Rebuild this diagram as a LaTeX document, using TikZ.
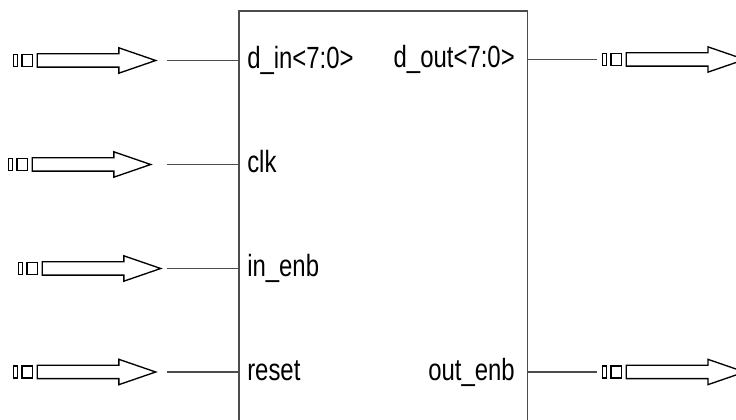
\documentclass[tikz,border=0pt]{standalone}
\usepackage{fontspec}
\newfontfamily\pinfont[FakeStretch=0.78]{Liberation Sans}
\usetikzlibrary{shapes.arrows,positioning}

\begin{document}
\begin{tikzpicture}[x=0.75pt,y=-0.75pt,
    busarrow/.style={single arrow,draw,line width=1pt,inner sep=0pt,
      minimum height=88.9pt,single arrow head extend=4.5pt,
      single arrow tip angle=38,single arrow head indent=0pt,anchor=tail},
    tick/.style={draw,line width=1pt,inner sep=0pt,minimum height=9pt},
    pinline/.style={draw=black!70,line width=1.4pt},
    pinlabel/.style={font=\pinfont\fontsize{23pt}{25pt}\selectfont,inner sep=0pt}]
    \useasboundingbox (0,0) rectangle (736,420);
    \clip (0,0) rectangle (736,420);

    % Block
    \node[draw=black!70,line width=1.4pt,minimum width=216.6pt,minimum height=330pt,
      anchor=north west,inner sep=0pt] (blk) at (237.7,10) {};

    % Input ports
    \foreach \nm/\s/\y/\txt in {din/15/60.5/d\_in<7:0>, clk/10/164.5/clk,
        inenb/20/268.5/in\_enb, reset/15/372/reset} {
      \node[busarrow] (\nm-arr) at (\s+21.5,\y) {\rule{0pt}{9pt}};
      \node[tick,minimum width=7.9pt,left=2.6pt of \nm-arr.tail] (\nm-t2) {};
      \node[tick,minimum width=3pt,left=2.3pt of \nm-t2] (\nm-t1) {};
      \coordinate (\nm-end) at (166.7,\y);
      \draw[pinline] (\nm-end) -- (\nm-end -| blk.west);
      \node[pinlabel,anchor=base west] (\nm-lbl) at (247,\y+8.5) {\txt};
    }

    % Output ports
    \foreach \nm/\y/\txt in {dout/59.5/d\_out<7:0>, outenb/372/out\_enb} {
      \node[busarrow] (\nm-arr) at (625.5,\y) {\rule{0pt}{9pt}};
      \node[tick,minimum width=7.9pt,left=2.6pt of \nm-arr.tail] (\nm-t2) {};
      \node[tick,minimum width=3pt,left=2.3pt of \nm-t2] (\nm-t1) {};
      \coordinate (\nm-end) at (596.7,\y);
      \draw[pinline] (blk.east |- \nm-end) -- (\nm-end);
      \node[pinlabel,anchor=base east] (\nm-lbl) at (515,\y+8.5) {\txt};
    }
\end{tikzpicture}
\end{document}
